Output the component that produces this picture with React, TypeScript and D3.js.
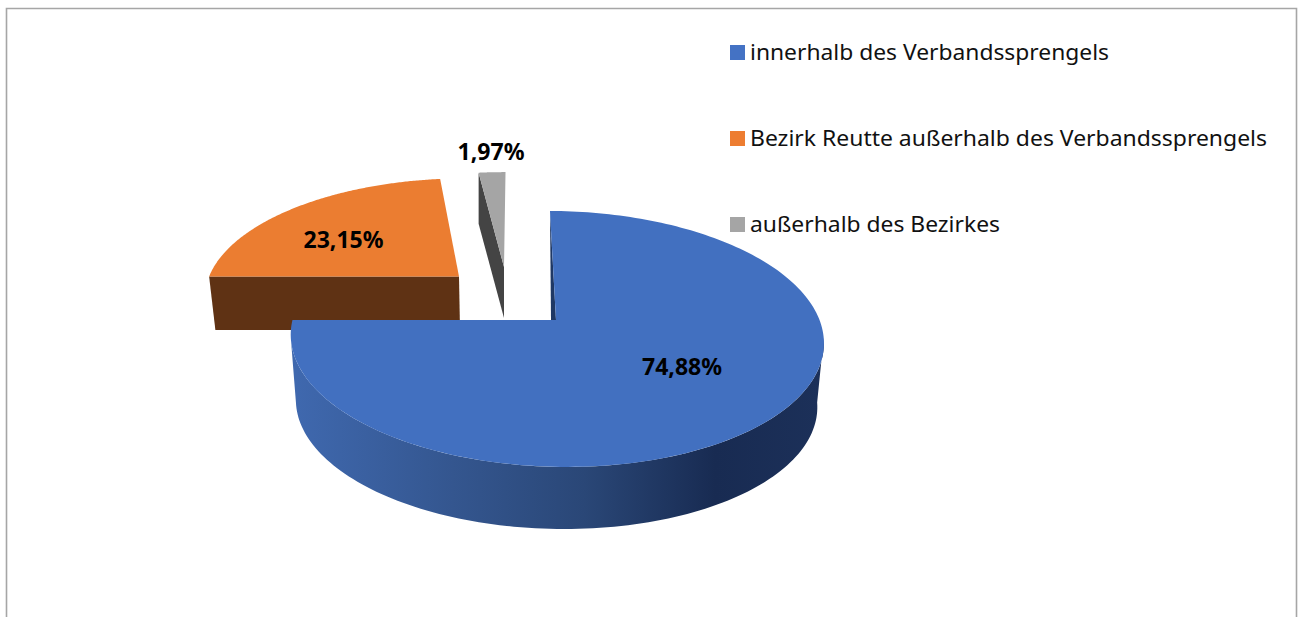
import React from "react";
import * as d3 from "d3";

const categories = ["innerhalb des Verbandssprengels", "Bezirk Reutte außerhalb des Verbandssprengels", "außerhalb des Bezirkes"];
const values = [74.88, 23.15, 1.97];
const valueLabels = ["74,88%", "23,15%", "1,97%"];
const faceColors = ["#4270c0", "#eb7d31", "#a5a5a5"];
const legendColors = ["#4472c4", "#ed7d31", "#a5a5a5"];
const innerColors = ["#1f3864", "#5f3214", "#444444"];

const W = 1300, H = 617;
const FONT = "'Noto Sans', 'Open Sans', sans-serif";
const P = -0.148, RX = 263, RY = 125.2;
const deg = Math.PI / 180;
const START = 0.4 * deg;

type Plane = { ax: number; ay: number; kx: number; ky: number; shear: number };
const project = (pl: Plane, a: number): [number, number] => {
  const u = Math.sin(a), v = -Math.cos(a), q = 1 + P * v;
  const y = (RY * pl.ky * v) / q;
  return [pl.ax + (RX * pl.kx * u) / q + pl.shear * y, pl.ay + y];
};
const sweep = (pl: Plane, a0: number, a1: number, n = 120) =>
  d3.range(n + 1).map((i) => project(pl, a0 + ((a1 - a0) * i) / n));

const line = d3.line();
const closed = (pts: [number, number][]) => line(pts) + "Z";

const pieGen = d3.pie<number>().sort(null).value((d) => d).startAngle(START).endAngle(START + 2 * Math.PI);
const arcs = pieGen(values);

// Upper and lower plane of each exploded slice.
const planes: { top: Plane; low: Plane }[] = [
  { top: { ax: 556, ay: 320, kx: 1.002, ky: 1, shear: 0.07 }, low: { ax: 555.5, ay: 385, kx: 0.98, ky: 0.98, shear: 0.06 } },
  { top: { ax: 459, ay: 276.5, kx: 0.95, ky: 0.9, shear: -0.067 }, low: { ax: 460, ay: 330, kx: 0.93, ky: 0.9, shear: -0.067 } },
  { top: { ax: 504, ay: 267, kx: 0.95, ky: 0.87, shear: 0 }, low: { ax: 504, ay: 318, kx: 0.95, ky: 0.87, shear: 0 } },
];

const legendY = [52, 138, 224];
const labelPos: [number, number][] = [[682, 367], [343.5, 240], [491, 152]];
const legendWidths = [359, 517, 250];

const gradStops: [number, string][] = [
  [0, "#3f68ae"],
  [0.3, "#34568f"],
  [0.55, "#2a4777"],
  [0.8, "#182b52"],
  [1, "#1c3059"],
];

export default function App() {
  const blue = planes[0];
  const wall = [
    ...sweep(blue.top, 98 * deg, 262 * deg),
    ...sweep(blue.low, 98 * deg, 262 * deg).reverse(),
  ];
  const face = (i: number) => {
    const pl = planes[i].top;
    return closed([[pl.ax, pl.ay], ...sweep(pl, arcs[i].startAngle, arcs[i].endAngle, 200)]);
  };
  const orangeEnd = arcs[1].startAngle;
  const orangeInner = closed([
    project(planes[1].top, orangeEnd),
    [planes[1].top.ax, planes[1].top.ay],
    [planes[1].low.ax, planes[1].low.ay],
    project(planes[1].low, orangeEnd),
  ]);
  const greyStart = arcs[2].startAngle;
  const greyInner = closed([
    project(planes[2].top, greyStart),
    [planes[2].top.ax, planes[2].top.ay],
    [planes[2].low.ax, planes[2].low.ay],
    project(planes[2].low, greyStart),
  ]);
  const blueOuter = project(blue.top, arcs[0].startAngle);
  const blueSliver = closed([blueOuter, [blue.top.ax, blue.top.ay], [blue.top.ax - 5, blue.top.ay]]);

  return (
    <svg width={W} height={H} style={{ position: "absolute", left: 0, top: 0, display: "block", background: "#fff" }}>
      <defs>
        <linearGradient id="wall" gradientUnits="userSpaceOnUse" x1={296} x2={820} y1={0} y2={0}>
          {gradStops.map(([o, c]) => <stop key={o} offset={o} stopColor={c} />)}
        </linearGradient>
      </defs>
      <path d={`M6.5,${H}V8.5H1296.5V${H}`} fill="none" stroke="#a6a6a6" strokeWidth={1.6} />

      <path d={greyInner} fill={innerColors[2]} />
      <path d={face(2)} fill={faceColors[2]} />
      <path d={orangeInner} fill={innerColors[1]} />
      <path d={face(1)} fill={faceColors[1]} />
      <path d={closed(wall as [number, number][])} fill="url(#wall)" />
      <path d={blueSliver} fill={innerColors[0]} />
      <path d={face(0)} fill={faceColors[0]} />

      {valueLabels.map((t, i) => (
        <text key={t} x={labelPos[i][0]} y={labelPos[i][1]} dy="0.36em" textAnchor="middle"
          fontFamily={FONT} fontWeight={700} fontSize={22.5} fill="#000"
          textLength={i === 2 ? 67 : 80} lengthAdjust="spacingAndGlyphs">{t}</text>
      ))}
      {categories.map((c, i) => (
        <g key={c}>
          <rect x={730} y={legendY[i] - 7} width={15} height={15} fill={legendColors[i]} />
          <text x={750} y={legendY[i]} dy="0.36em" fontFamily={FONT} fontSize={22} fill="#111"
            textLength={legendWidths[i]} lengthAdjust="spacingAndGlyphs">{c}</text>
        </g>
      ))}
    </svg>
  );
}
